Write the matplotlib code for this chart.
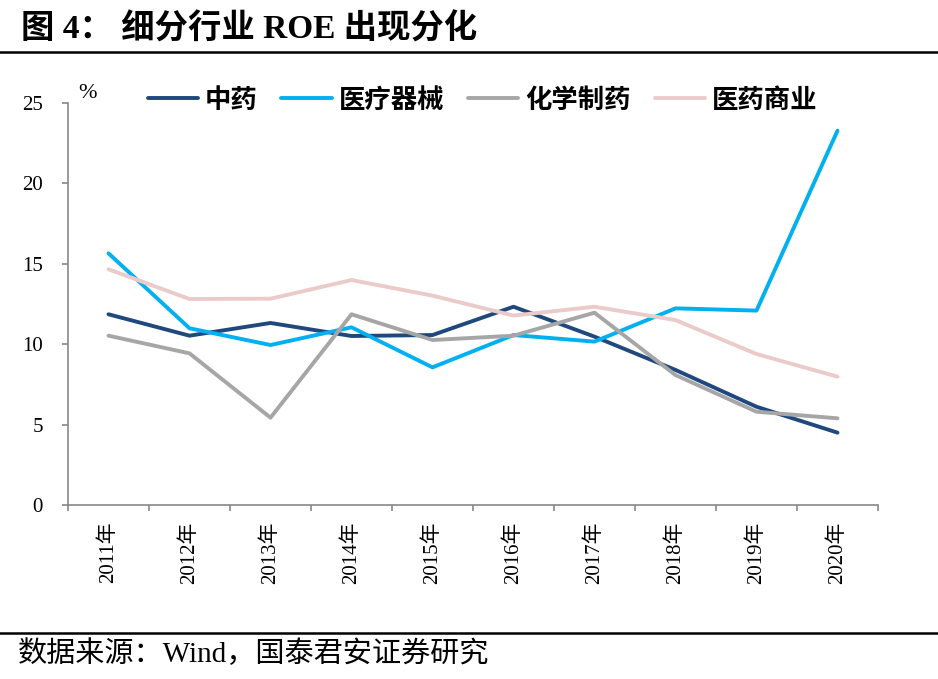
import numpy as np
import matplotlib
matplotlib.use('Agg')
import matplotlib.pyplot as plt
from matplotlib.lines import Line2D

# 数据（%）
years = ['2011年', '2012年', '2013年', '2014年', '2015年',
         '2016年', '2017年', '2018年', '2019年', '2020年']
zhongyao = [11.86, 10.53, 11.32, 10.51, 10.57, 12.33, 10.47, 8.40, 6.11, 4.50]
yiliao_qixie = [15.65, 10.99, 9.95, 11.05, 8.56, 10.57, 10.16, 12.23, 12.09, 23.28]
huaxue_zhiyao = [10.53, 9.43, 5.43, 11.86, 10.26, 10.53, 11.96, 8.08, 5.80, 5.39]
yiyao_shangye = [14.66, 12.81, 12.83, 13.99, 13.02, 11.78, 12.33, 11.50, 9.39, 7.98]

series_names = ['中药', '医疗器械', '化学制药', '医药商业']
series_colors = ['#1F497D', '#00B0F0', '#A6A6A6', '#EBCACA']

serif_cjk = ['Liberation Serif', 'Noto Sans CJK SC']
cjk = ['Noto Sans CJK SC', 'DejaVu Sans']

fig = plt.figure(figsize=(9.38, 6.79), dpi=100)
ax = fig.add_axes([68 / 938, 1 - 505 / 679, 810 / 938, 402 / 679])

x = np.arange(len(years))
for vals, name, col in zip([zhongyao, yiliao_qixie, huaxue_zhiyao, yiyao_shangye],
                           series_names, series_colors):
    ax.plot(x, vals, color=col, lw=2.8, label=name, solid_capstyle='round')

ax.set_xlim(-0.5, len(years) - 0.5)
ax.set_ylim(0, 25)
ax.set_yticks(np.arange(0, 26, 5))

# 类目边界刻度 + 居中标签
ax.set_xticks(np.arange(-0.5, len(years), 1))
ax.set_xticklabels([])
ax.set_xticks(x, minor=True)
ax.set_xticklabels(years, minor=True, rotation=90, family=serif_cjk, fontsize=15)
ax.tick_params(axis='x', which='minor', length=0, pad=12)
ax.tick_params(axis='x', which='major', length=4, width=1.2, color='#888888', direction='out')
ax.tick_params(axis='y', length=4, width=1.2, color='#888888', direction='out', pad=14)
for lab in ax.get_yticklabels():
    lab.set_family('Liberation Serif')
    lab.set_fontsize(15)

for s in ['top', 'right']:
    ax.spines[s].set_visible(False)
for s in ['left', 'bottom']:
    ax.spines[s].set_color('#888888')
    ax.spines[s].set_linewidth(1.2)

leg = ax.legend(loc='center', bbox_to_anchor=(482.5 / 938, 1 - 100 / 679),
                bbox_transform=fig.transFigure, ncol=4, frameon=False,
                handlelength=1.9, handletextpad=0.27, columnspacing=0.9,
                prop={'family': cjk, 'size': 19, 'weight': 'bold'})

fig.text(87 / 938, 1 - 93 / 679, '%', family='Liberation Serif', fontsize=16,
         ha='center', va='center')

# 标题与来源
fig.text(21 / 938, 1 - 29 / 679, '图 4： 细分行业 ROE 出现分化', family=serif_cjk,
         fontsize=24, fontweight='bold', ha='left', va='center')
fig.add_artist(Line2D([0, 1], [1 - 51.5 / 679] * 2, transform=fig.transFigure,
                      color='black', lw=1.8))
fig.add_artist(Line2D([0, 1], [1 - 632.7 / 679] * 2, transform=fig.transFigure,
                      color='black', lw=1.8))
fig.text(18 / 938, 1 - 654 / 679, '数据来源：Wind，国泰君安证券研究', family=serif_cjk,
         fontsize=21, ha='left', va='center')

fig.savefig('out.png', dpi=100)
